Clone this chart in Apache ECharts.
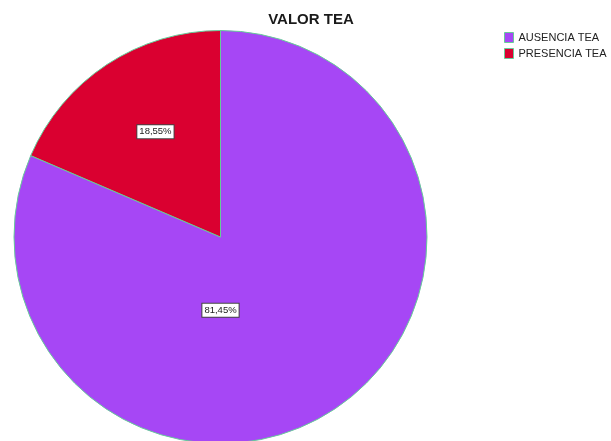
<!DOCTYPE html>
<html>
<head>
<meta charset="utf-8">
<script src="https://cdn.jsdelivr.net/npm/echarts@6/dist/echarts.min.js"></script>
<style>html,body{margin:0;padding:0;background:#fff}#c{width:611px;height:441px}</style>
</head>
<body>
<div id="c"></div>
<script>
const categories = ['AUSENCIA TEA', 'PRESENCIA TEA'];
const values = [81.45, 18.55];
const labels = ['81,45%', '18,55%'];
const colors = ['#A647F5', '#DA0030'];

const chart = echarts.init(document.getElementById('c'));
const cx = 220.5, cy = 237, R = 206.5;
// label offsets relative to pie centre, as fractions of radius (SPSS-like placement)
const labelOffsets = [[0, 0.355], [-0.315, -0.51]];

chart.setOption({
  animation: false,
  title: {
    text: 'VALOR TEA',
    left: 311, top: 12,
    padding: 0,
    textAlign: 'center',
    textStyle: { fontFamily: 'Liberation Sans', fontSize: 15, fontWeight: 'bold', color: '#1a1a1a' }
  },
  legend: {
    orient: 'vertical',
    left: 504, top: 32,
    padding: 0,
    itemWidth: 9, itemHeight: 10, itemGap: 5,
    icon: 'rect',
    itemStyle: { borderColor: '#66cc99', borderWidth: 1 },
    textStyle: { fontFamily: 'Liberation Sans', fontSize: 11, color: '#222' },
    data: categories
  },
  series: [{
    type: 'pie',
    center: [cx, cy],
    radius: R,
    startAngle: 90,
    clockwise: true,
    silent: true,
    itemStyle: { borderColor: '#66cc99', borderWidth: 1 },
    label: {
      show: true,
      position: 'inside',
      formatter: p => labels[p.dataIndex],
      fontFamily: 'Liberation Sans',
      fontSize: 9.5,
      color: '#222',
      backgroundColor: '#fff',
      borderColor: '#444',
      borderWidth: 1,
      padding: [2, 2, 1, 2]
    },
    labelLine: { show: false },
    labelLayout: p => {
      const o = labelOffsets[p.dataIndex];
      return { x: cx + o[0] * R, y: cy + o[1] * R, align: 'center', verticalAlign: 'middle' };
    },
    data: categories.map((c, i) => ({ name: c, value: values[i], itemStyle: { color: colors[i] } }))
  }]
});
</script>
</body>
</html>
